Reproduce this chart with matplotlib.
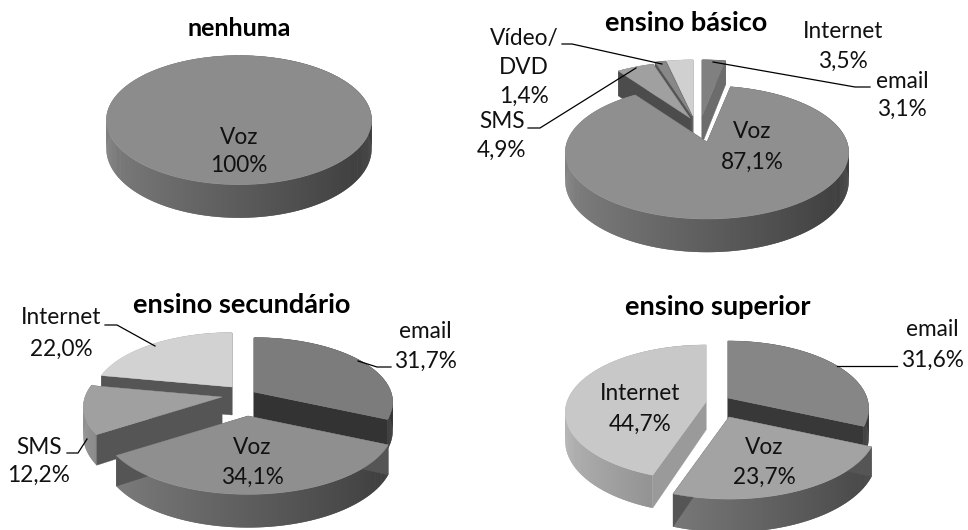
import matplotlib
matplotlib.use("Agg")
import matplotlib.pyplot as plt
import numpy as np
from matplotlib.collections import PolyCollection
from matplotlib.patches import Polygon

plt.rcParams['font.family'] = ['Lato', 'DejaVu Sans']

titles = ["nenhuma", "ensino básico", "ensino secundário", "ensino superior"]

cats_nenhuma = ["Voz"]
vals_nenhuma = [100.0]
cats_basico = ["email", "Voz", "SMS", "Vídeo/\nDVD", "Internet"]
vals_basico = [3.1, 87.1, 4.9, 1.4, 3.5]
cats_secundario = ["email", "Voz", "SMS", "Internet"]
vals_secundario = [31.7, 34.1, 12.2, 22.0]
cats_superior = ["email", "Voz", "Internet"]
vals_superior = [31.6, 23.7, 44.7]

# perspective of the pies
P = 0.156
DEPTH = 28


def project(theta, A, B):
    u, v = np.sin(theta), np.cos(theta)
    w = 1 + P * v
    return u / w * A, -v / w * B, DEPTH / w, u


def shade(c, f):
    return (c * f, c * f, c * f)


def draw_slice(ax, apex, t0, t1, top, wall, A=138, B=65):
    ax0, ay0 = apex
    th = np.radians(np.linspace(t0, t1, max(int(t1 - t0), 4) * 2))
    x, y, d, u = project(th, A, B)
    x = x + ax0
    y = y + ay0
    full = t1 - t0 >= 360
    # outer rim, lighter on the left, dark on the right
    # each quad runs over the next one so no seams show
    order = np.argsort(u)
    quads = []
    cols = []
    for i in range(len(x) - 1):
        j = min(i + 2, len(x) - 1)
        quads.append([(x[i], y[i]), (x[j], y[j]), (x[j], y[j] + d[j]), (x[i], y[i] + d[i])])
        f = 0.655 - 0.245 * (u[i] + u[i + 1]) / 2
        cols.append(shade(top / 255, f))
    ax.add_collection(PolyCollection(quads, facecolors=cols, edgecolors="none", linewidths=0, zorder=ax.nz))
    ax.nz += 1
    if not full:
        # radial walls
        for i in (0, -1):
            ax.add_patch(Polygon([(ax0, ay0), (x[i], y[i]), (x[i], y[i] + d[i]), (ax0, ay0 + DEPTH)],
                                 facecolor=wall, edgecolor=wall, lw=0.3, zorder=ax.nz))
            ax.nz += 1
    if full:
        pts = np.column_stack([x, y])
    else:
        pts = np.vstack([[ax0, ay0], np.column_stack([x, y])])
    g = top / 255
    ax.add_patch(Polygon(pts, facecolor=(g, g, g), edgecolor=(g, g, g), lw=0.3, zorder=ax.nz))
    ax.nz += 1


def draw_pie(ax, vals, apexes, tops, walls, order, A=138, B=65, scales=None):
    ends = np.cumsum(vals) / np.sum(vals) * 360
    starts = np.concatenate([[0], ends[:-1]])
    if scales is None:
        scales = [1.0] * len(vals)
    for i in order:
        draw_slice(ax, apexes[i], starts[i], ends[i], tops[i], walls[i], A * scales[i], B * scales[i])


def pct(v):
    if v == 100:
        return "100%"
    return f"{v:.1f}%".replace(".", ",")


fig = plt.figure(figsize=(9.68, 5.30), dpi=100)
ax = fig.add_axes([0, 0, 1, 1])
ax.set_xlim(0, 968)
ax.set_ylim(530, 0)
ax.axis("off")
ax.nz = 2

draw_pie(ax, vals_nenhuma, [(239, 110)], [140], ["#555555"], [0], A=131, B=63)
draw_pie(ax, vals_basico,
         [(702, 116), (707, 142), (690, 118), (692, 116), (693, 116)],
         [128, 143, 160, 136, 208],
         ["#6c6c6c", "#555555", "#4c4c4c", "#555555", "#707070"],
         [0, 4, 3, 2, 1], A=140, B=65)
draw_pie(ax, vals_secundario,
         [(254, 392), (248, 416), (222, 397), (232, 387)],
         [124, 143, 160, 210],
         ["#333333", "#555555", "#555555", "#555555"],
         [3, 0, 2, 1], A=137, B=63, scales=[1, 1.05, 1, 1])
draw_pie(ax, vals_superior,
         [(728, 398), (729, 417), (706, 402)],
         [134, 163, 200],
         ["#383838", "#555555", "#9a9a9a"],
         [2, 0, 1], A=139, B=66, scales=[1, 1.05, 1])

fs = 16.3
for t, x, y, s in zip(titles, [239, 686, 242, 718], [29, 23, 305, 307], [18, 19.5, 19.5, 19.5]):
    ax.text(x, y, t, fontsize=s, fontweight="bold", ha="center", va="center", zorder=200)


def label(cat, v, x, y, dy=29):
    # two rows of text (three for the Vídeo/DVD one)
    rows = cat.split("\n") + [pct(v)]
    for k, r in enumerate(rows):
        ax.text(x, y + k * dy, r, fontsize=fs, ha="center", va="center", color="#111111", zorder=200)


label(cats_nenhuma[0], vals_nenhuma[0], 239, 137)
label(cats_basico[0], vals_basico[0], 902, 81, 28)
label(cats_basico[1], vals_basico[1], 752, 132, 30)
label(cats_basico[2], vals_basico[2], 502, 122, 28)
label(cats_basico[3], vals_basico[3], 524, 38)
label(cats_basico[4], vals_basico[4], 843, 32)
label(cats_secundario[0], vals_secundario[0], 425, 331, 30)
label(cats_secundario[1], vals_secundario[1], 252, 448)
label(cats_secundario[2], vals_secundario[2], 39, 447, 28)
label(cats_secundario[3], vals_secundario[3], 61, 318, 31)
label(cats_superior[0], vals_superior[0], 932, 330, 30)
label(cats_superior[1], vals_superior[1], 764, 448)
label(cats_superior[2], vals_superior[2], 640, 393, 31)

# leader lines
leaders = [
    ([713, 855, 870], [62, 87, 87]),
    ([562, 572, 662], [44, 44, 64]),
    ([528, 540, 636], [128, 128, 68]),
    ([105, 117, 155], [325, 325, 346]),
    ([358, 377, 391], [361, 367, 367]),
    ([67, 78, 87], [453, 453, 439]),
    ([837, 897], [366, 366]),
]
for lx, ly in leaders:
    ax.plot(lx, ly, color="black", lw=0.9, zorder=150)

plt.savefig("out.png", dpi=100)
plt.close(fig)
